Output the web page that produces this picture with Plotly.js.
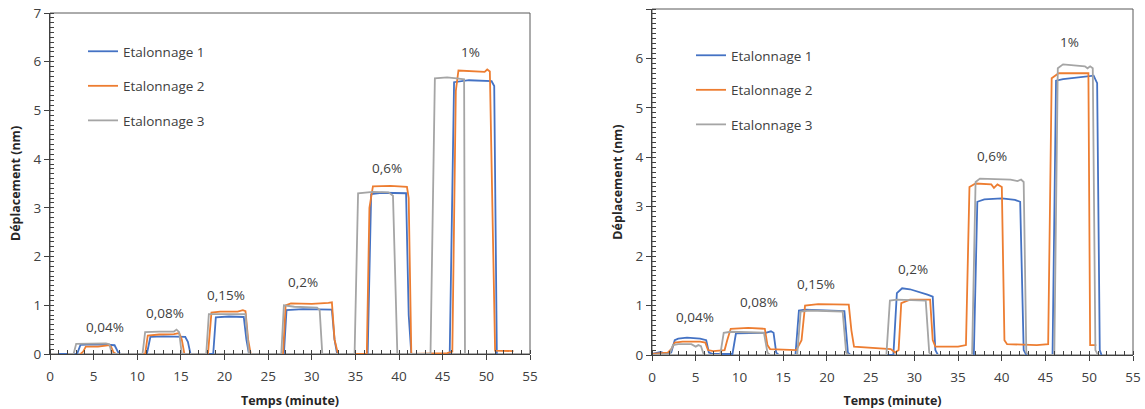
<!DOCTYPE html>
<html>
<head>
<meta charset="utf-8">
<script src="https://cdn.plot.ly/plotly-3.0.1.min.js"></script>
<style>html,body{margin:0;padding:0;background:#fff;}#chart{width:1145px;height:409px;}</style>
</head>
<body>
<div id="chart"></div>
<script>
// ---------- data ----------
const seriesNames = ['Etalonnage 1', 'Etalonnage 2', 'Etalonnage 3'];
const xTicks = [0, 5, 10, 15, 20, 25, 30, 35, 40, 45, 50, 55];
const yTicks = [0, 1, 2, 3, 4, 5, 6, 7];

// Left chart
const leftE1_t = [1, 3.1, 3.5, 5, 6.5, 7.4, 7.8, 8.1, 11.1, 11.5, 13, 15.5, 15.8, 16.1, 18.7, 19.0, 20.5, 22.2, 22.5, 22.8, 26.8, 27.1, 29, 32.3, 32.6, 32.9, 36.4, 36.8, 38, 40.8, 41.1, 41.4, 45.8, 46.3, 48, 50.6, 50.9, 51.2];
const leftE1_d = [0, 0, 0.19, 0.2, 0.19, 0.18, 0.04, 0, 0, 0.35, 0.36, 0.35, 0.25, 0, 0, 0.75, 0.77, 0.76, 0.3, 0, 0, 0.9, 0.92, 0.91, 0.3, 0, 0, 3.28, 3.31, 3.3, 0.8, 0, 0, 5.58, 5.62, 5.6, 5.5, 0];

const leftE2_t = [3.5, 3.8, 4.1, 5.5, 6.4, 6.8, 7.0, 7.3, 7.6, 10.9, 11.2, 12.5, 14.2, 14.8, 15.1, 15.4, 18.1, 18.5, 19.5, 21.5, 22.1, 22.4, 22.7, 23.0, 26.7, 27.0, 27.6, 30, 31.9, 32.3, 32.6, 33.0, 36.3, 36.6, 37.0, 39, 40.9, 41.1, 41.4, 45.5, 46.1, 46.5, 46.8, 48.5, 49.8, 50.1, 50.4, 51.0, 53.1];
const leftE2_d = [0, 0.05, 0.15, 0.15, 0.17, 0.18, 0.15, 0.03, 0, 0, 0.38, 0.4, 0.41, 0.43, 0.3, 0, 0, 0.85, 0.87, 0.87, 0.9, 0.88, 0.3, 0, 0, 1.0, 1.04, 1.03, 1.05, 1.06, 0.3, 0, 0, 3.0, 3.44, 3.45, 3.43, 3.2, 0, 0.02, 0.05, 5.4, 5.82, 5.8, 5.79, 5.84, 5.8, 0.07, 0.06];

const leftE3_t = [2, 2.7, 3.0, 4.5, 6.4, 6.8, 7.1, 10.6, 10.9, 12.5, 14.2, 14.5, 14.8, 15.1, 17.9, 18.2, 20, 22.4, 22.8, 26.5, 26.8, 28, 30.6, 30.9, 31.2, 34.9, 35.3, 37, 38.8, 39.3, 39.8, 43.6, 44.1, 45.5, 46.6, 47.45, 47.55];
const leftE3_d = [0, 0, 0.21, 0.22, 0.22, 0.2, 0, 0, 0.45, 0.46, 0.46, 0.5, 0.45, 0, 0, 0.82, 0.82, 0.82, 0, 0, 1.0, 0.97, 0.95, 0.9, 0, 0, 3.3, 3.33, 3.32, 3.25, 0, 0, 5.66, 5.68, 5.66, 5.64, 0];

// Right chart
const rightE1_t = [0, 1, 1.5, 2.2, 2.6, 3, 4, 5.5, 6.2, 6.5, 7, 9.2, 9.6, 11, 13, 13.6, 13.9, 14.2, 14.5, 16.4, 16.8, 17.5, 20, 22, 22.4, 22.7, 27.6, 28.0, 28.6, 29.5, 31.5, 32.1, 32.4, 32.7, 36.8, 37.2, 38, 40, 41.5, 42.1, 42.5, 42.8, 45.8, 46.2, 47, 49, 50.5, 50.9, 51.2, 51.4];
const rightE1_d = [0.02, 0.06, 0.03, 0.05, 0.3, 0.33, 0.35, 0.33, 0.3, 0.05, 0.02, 0.02, 0.44, 0.45, 0.45, 0.48, 0.45, 0.05, 0, 0, 0.9, 0.92, 0.9, 0.89, 0.05, 0, 0, 1.25, 1.35, 1.33, 1.22, 1.18, 0.1, 0, 0, 3.1, 3.15, 3.17, 3.14, 3.1, 0.1, 0, 0, 5.55, 5.58, 5.62, 5.65, 5.5, 0.1, 0];

const rightE2_t = [0, 1.8, 2.2, 2.6, 3.5, 5.5, 6.1, 6.4, 7, 8.3, 8.6, 9, 11, 12.9, 13.2, 13.5, 16.5, 17.1, 17.5, 19, 22.5, 22.8, 23.1, 25, 27.3, 27.8, 28.2, 28.5, 29.5, 31.8, 32.1, 32.4, 35, 35.9, 36.3, 37, 38.8, 39.1, 39.5, 40, 40.3, 40.6, 44, 45.3, 45.7, 46.5, 49.9, 50.1, 50.8];
const rightE2_d = [0.02, 0.05, 0.12, 0.25, 0.27, 0.27, 0.25, 0.1, 0.08, 0.1, 0.3, 0.53, 0.55, 0.53, 0.2, 0.12, 0.1, 0.3, 1.0, 1.03, 1.02, 0.5, 0.17, 0.15, 0.12, 0.05, 0.1, 1.05, 1.12, 1.12, 0.3, 0.17, 0.17, 0.2, 3.4, 3.47, 3.45, 3.38, 3.45, 3.4, 0.3, 0.22, 0.2, 0.22, 5.6, 5.7, 5.7, 0.2, 0.2];

const rightE3_t = [0, 2.0, 2.4, 3, 4.5, 5, 5.3, 5.6, 5.9, 6.3, 7.8, 8.2, 9, 12.8, 13.2, 13.5, 16.6, 17, 18, 21.8, 22.2, 22.5, 26.8, 27.2, 28, 31.3, 31.7, 32, 36.6, 37.0, 37.5, 41, 41.8, 42.2, 42.5, 42.8, 43.1, 46.0, 46.4, 47, 49.5, 49.8, 50.1, 50.4, 50.7, 51];
const rightE3_d = [0, 0.02, 0.2, 0.22, 0.22, 0.17, 0.2, 0.18, 0.02, 0, 0, 0.45, 0.47, 0.45, 0.05, 0, 0, 0.88, 0.9, 0.88, 0.05, 0, 0, 1.1, 1.12, 1.1, 0.05, 0, 0, 3.5, 3.57, 3.55, 3.52, 3.55, 3.5, 0.05, 0, 0, 5.8, 5.88, 5.84, 5.8, 5.84, 5.8, 0.1, 0];

const leftLabels = ['0,04%', '0,08%', '0,15%', '0,2%', '0,6%', '1%'];
const leftLabelX = [6.3, 13.2, 20.2, 29.0, 38.6, 48.2];
const leftLabelY = [0.55, 0.84, 1.21, 1.48, 3.82, 6.2];
const rightLabels = ['0,04%', '0,08%', '0,15%', '0,2%', '0,6%', '1%'];
const rightLabelX = [4.9, 12.2, 18.8, 29.9, 38.9, 47.7];
const rightLabelY = [0.77, 1.07, 1.44, 1.73, 4.03, 6.34];

// ---------- styling ----------
const colors = ['#4472C4', '#ED7D31', '#A5A5A5'];
const FONT = 'Open Sans, Noto Sans, sans-serif';
const W = 1145, H = 409;

function mk(t, d, i, xa, ya, lg) {
  return {x: t, y: d, type: 'scatter', mode: 'lines', name: seriesNames[i],
    line: {color: colors[i], width: 1.8}, xaxis: xa, yaxis: ya, legend: lg,
    legendgroup: lg + i, hoverinfo: 'skip'};
}

const data = [
  mk(leftE1_t, leftE1_d, 0, 'x', 'y', 'legend'),
  mk(leftE2_t, leftE2_d, 1, 'x', 'y', 'legend'),
  mk(leftE3_t, leftE3_d, 2, 'x', 'y', 'legend'),
  mk(rightE1_t, rightE1_d, 0, 'x2', 'y2', 'legend2'),
  mk(rightE2_t, rightE2_d, 1, 'x2', 'y2', 'legend2'),
  mk(rightE3_t, rightE3_d, 2, 'x2', 'y2', 'legend2')
];

const axCol = '#404040';
function xax(dom, ya) {
  return {domain: dom, anchor: ya, range: [0, 55], tickmode: 'array', tickvals: xTicks,
    ticktext: xTicks.map(String), ticks: 'outside', ticklen: 5, tickcolor: axCol,
    showline: true, linecolor: axCol, linewidth: 1, showgrid: false, zeroline: false,
    ticklabelstandoff: 5,
    minor: {dtick: 1, tick0: 0, ticks: 'inside', ticklen: 4, tickcolor: axCol, showgrid: false},
    tickfont: {family: FONT, size: 13.5, color: '#404040'}, automargin: false,
    title: {text: '<b>Temps (minute)</b>', font: {family: FONT, size: 12.5, color: '#262626'}, standoff: 12}};
}
function yax(dom, xa) {
  return {domain: dom, anchor: xa, range: [0, 7], tickmode: 'array', tickvals: yTicks,
    ticktext: yTicks.map(String), ticks: 'outside', ticklen: 5, tickcolor: axCol,
    showline: true, linecolor: axCol, linewidth: 1, showgrid: false, zeroline: false,
    minor: {dtick: 0.1, tick0: 0, ticks: 'inside', ticklen: 4, tickcolor: axCol, showgrid: false},
    tickfont: {family: FONT, size: 13.5, color: '#404040'}, automargin: false,
    title: {text: '<b>Déplacement (nm)</b>', font: {family: FONT, size: 12.5, color: '#262626'}, standoff: 10}};
}

function anns(labels, xs, ys, xr, yr) {
  return labels.map((t, i) => ({text: t, x: xs[i], y: ys[i], xref: xr, yref: yr, showarrow: false,
    font: {family: FONT, size: 13.5, color: '#404040'}, xanchor: 'center', yanchor: 'middle'}));
}

const legendStyle = {font: {family: FONT, size: 13.5, color: '#404040'}, bgcolor: 'rgba(0,0,0,0)',
  tracegroupgap: 14, itemwidth: 30, xanchor: 'left', yanchor: 'top', xref: 'paper', yref: 'paper'};

const layout = {
  width: W, height: H, paper_bgcolor: '#fff', plot_bgcolor: '#fff',
  margin: {l: 0, r: 0, t: 0, b: 0}, showlegend: true,
  font: {family: FONT},
  xaxis: xax([50 / W, 530 / W], 'y'),
  yaxis: yax([(H - 354) / H, (H - 13) / H], 'x'),
  xaxis2: xax([652 / W, 1133 / W], 'y2'),
  yaxis2: yax([(H - 355) / H, (H - 9) / H], 'x2'),
  legend: Object.assign({x: 83 / W, y: (H - 36) / H}, legendStyle),
  legend2: Object.assign({x: 691 / W, y: (H - 40) / H}, legendStyle),
  annotations: anns(leftLabels, leftLabelX, leftLabelY, 'x', 'y')
    .concat(anns(rightLabels, rightLabelX, rightLabelY, 'x2', 'y2')),
  shapes: [
    {type: 'rect', xref: 'x domain', yref: 'y domain', x0: 0, x1: 1, y0: 0, y1: 1,
      line: {color: '#595959', width: 1}, layer: 'below'},
    {type: 'rect', xref: 'x2 domain', yref: 'y2 domain', x0: 0, x1: 1, y0: 0, y1: 1,
      line: {color: '#595959', width: 1}, layer: 'below'}
  ]
};

Plotly.newPlot('chart', data, layout, {displayModeBar: false, staticPlot: true});
</script>
</body>
</html>
